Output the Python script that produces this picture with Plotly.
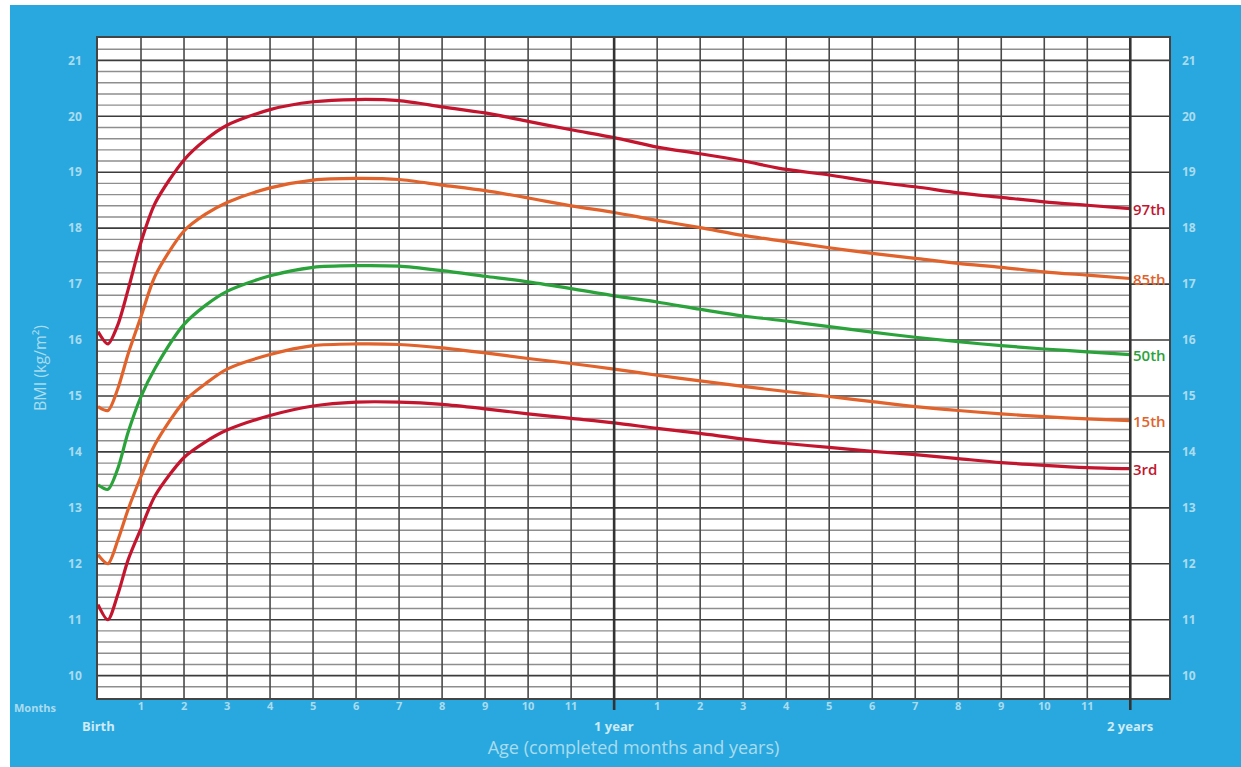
import plotly.graph_objects as go

# ---------------- data ----------------
months = [0, 0.23, 0.46, 0.7, 1, 1.33, 2, 2.5, 3, 4, 5,
          6, 7, 8, 9, 10, 11, 12, 13, 14, 15, 16, 17, 18, 19, 20, 21, 22, 23, 24]

p97 = [16.15, 15.93, 16.27, 16.90, 17.75, 18.45, 19.22, 19.58, 19.84, 20.12, 20.26,
       20.30, 20.28, 20.17, 20.06, 19.91, 19.76, 19.62, 19.45, 19.33, 19.20, 19.05,
       18.95, 18.83, 18.74, 18.63, 18.55, 18.47, 18.41, 18.35]
p85 = [14.81, 14.74, 15.13, 15.75, 16.42, 17.15, 17.95, 18.25, 18.46, 18.72, 18.86,
       18.89, 18.87, 18.77, 18.67, 18.54, 18.40, 18.28, 18.14, 18.01, 17.87, 17.76,
       17.65, 17.55, 17.46, 17.37, 17.30, 17.22, 17.16, 17.10]
p50 = [13.41, 13.33, 13.70, 14.35, 14.99, 15.50, 16.28, 16.62, 16.87, 17.15, 17.30,
       17.33, 17.32, 17.24, 17.14, 17.04, 16.92, 16.79, 16.68, 16.55, 16.43, 16.34,
       16.24, 16.14, 16.05, 15.97, 15.90, 15.84, 15.79, 15.74]
p15 = [12.16, 12.00, 12.42, 12.97, 13.56, 14.14, 14.90, 15.22, 15.48, 15.74, 15.90,
       15.93, 15.92, 15.86, 15.77, 15.67, 15.58, 15.48, 15.37, 15.27, 15.17, 15.08,
       14.99, 14.90, 14.81, 14.74, 14.68, 14.63, 14.59, 14.56]
p3 = [11.27, 11.00, 11.45, 12.07, 12.63, 13.22, 13.90, 14.18, 14.39, 14.65, 14.82,
      14.89, 14.89, 14.85, 14.77, 14.68, 14.60, 14.52, 14.42, 14.33, 14.23, 14.15,
      14.08, 14.01, 13.95, 13.88, 13.81, 13.76, 13.72, 13.70]

curve_names = ["97th", "85th", "50th", "15th", "3rd"]
curve_values = [p97, p85, p50, p15, p3]

month_ticks = [1, 2, 3, 4, 5, 6, 7, 8, 9, 10, 11, 13, 14, 15, 16, 17, 18, 19, 20, 21, 22, 23]
month_labels = ["1", "2", "3", "4", "5", "6", "7", "8", "9", "10", "11",
                "1", "2", "3", "4", "5", "6", "7", "8", "9", "10", "11"]
year_ticks = [0, 12, 24]
year_labels = ["Birth", "1 year", "2 years"]
bmi_ticks = [10, 11, 12, 13, 14, 15, 16, 17, 18, 19, 20, 21]

# ---------------- style ----------------
W, H = 1241, 767
ML, MR, MT, MB = 98, 72, 38, 69
PW, PH = W - ML - MR, H - MT - MB
X_RANGE = [0, 24.9]
Y_RANGE = [9.6, 21.4]

BLUE = "#29a8df"
TICKC = "#aadcee"
NAMEC = "#cdebf5"
RED = "#c4152f"
ORANGE = "#e1622b"
GREEN = "#2aa33b"
curve_colors = [RED, ORANGE, GREEN, ORANGE, RED]
FONT = "Open Sans"


def px_x(px):
    return (px - ML) / PW


def px_y(py):
    return (H - MB - py) / PH


fig = go.Figure()

for name, vals, color in zip(curve_names, curve_values, curve_colors):
    fig.add_trace(go.Scatter(
        x=months, y=vals, mode="lines", name=name,
        line=dict(color=color, width=3.2, shape="spline", smoothing=0.8),
        hoverinfo="skip", showlegend=False))
    fig.add_annotation(x=months[-1], y=vals[-1], text=name, showarrow=False,
                       xanchor="left", yanchor="middle", xshift=1,
                       font=dict(family=FONT, size=15, color=color, weight=600))

# empty trace to activate right-hand BMI axis
fig.add_trace(go.Scatter(x=[None], y=[None], yaxis="y2", showlegend=False,
                         hoverinfo="skip"))

shapes = []
# horizontal grid lines every 0.2 kg/m2
lo, hi = int(round(Y_RANGE[0] * 5)), int(round(Y_RANGE[1] * 5))
for k in range(lo + 1, hi):
    v = k / 5
    if k % 5 == 0:
        shapes.append(dict(type="line", xref="x", yref="y", x0=0, x1=X_RANGE[1],
                           y0=v, y1=v, layer="below",
                           line=dict(color="#3c3c3c", width=1.6)))
    else:
        shapes.append(dict(type="line", xref="x", yref="y", x0=0, x1=24,
                           y0=v, y1=v, layer="below",
                           line=dict(color="#8e8e8e", width=1.4)))
# vertical month lines
for m in range(1, 24):
    if m == 12:
        continue
    shapes.append(dict(type="line", xref="x", yref="y", x0=m, x1=m,
                       y0=Y_RANGE[0], y1=Y_RANGE[1], layer="below",
                       line=dict(color="#4a4a4a", width=1.6)))
# year lines (thicker, extend below plot)
for m in [12, 24]:
    shapes.append(dict(type="line", xref="x", yref="paper", x0=m, x1=m,
                       y0=px_y(710), y1=1, layer="above",
                       line=dict(color="#333333", width=2.6)))
# white strips at the very left / top of the page
shapes.append(dict(type="rect", xref="paper", yref="paper",
                   x0=px_x(-2), x1=px_x(10), y0=px_y(H + 2), y1=px_y(-2),
                   line=dict(width=0), fillcolor="white", layer="below"))
shapes.append(dict(type="rect", xref="paper", yref="paper",
                   x0=px_x(-2), x1=px_x(W + 2), y0=px_y(5), y1=px_y(-2),
                   line=dict(width=0), fillcolor="white", layer="below"))

annotations = list(fig.layout.annotations)
for xv, lab in zip(year_ticks, year_labels):
    annotations.append(dict(x=xv, y=px_y(726), xref="x", yref="paper", text=lab,
                            showarrow=False, xanchor="center", yanchor="middle",
                            font=dict(family=FONT, size=13, color=NAMEC, weight="bold")))
annotations.append(dict(x=px_x(35), y=px_y(707), xref="paper", yref="paper",
                        text="Months", showarrow=False, xanchor="center",
                        yanchor="middle",
                        font=dict(family=FONT, size=11, color=TICKC, weight="bold")))

fig.update_layout(
    width=W, height=H,
    margin=dict(l=ML, r=MR, t=MT, b=MB, autoexpand=False),
    paper_bgcolor=BLUE, plot_bgcolor="white",
    shapes=shapes, annotations=annotations,
    xaxis=dict(range=X_RANGE, tickvals=month_ticks, ticktext=month_labels,
               showgrid=False, zeroline=False, ticks="", ticklabelstandoff=-3,
               tickfont=dict(family=FONT, size=11, color=TICKC, weight="bold"),
               showline=True, linecolor="#444444", linewidth=1.5, mirror=True,
               title=dict(text="Age (completed months and years)", standoff=29,
                          font=dict(family=FONT, size=18, color=TICKC))),
    yaxis=dict(range=Y_RANGE, tickvals=bmi_ticks, showgrid=False, zeroline=False,
               ticks="", ticklabelstandoff=12,
               tickfont=dict(family=FONT, size=12, color=TICKC, weight="bold"),
               showline=True, linecolor="#444444", linewidth=1.5, mirror=True,
               title=dict(text="BMI (kg/m²)", standoff=18,
                          font=dict(family=FONT, size=16, color=TICKC))),
    yaxis2=dict(range=Y_RANGE, tickvals=bmi_ticks, overlaying="y", side="right",
                showgrid=False, zeroline=False, ticks="", ticklabelstandoff=12,
                tickfont=dict(family=FONT, size=12, color=TICKC, weight="bold"),
                showline=False),
)

fig.write_html("out.html",
               config={"displayModeBar": False},
               post_script="document.documentElement.style.background='" + BLUE + "';"
                           "document.body.style.background='" + BLUE + "';"
                           "document.body.style.margin='0';"
                           "document.body.style.padding='0';"
                           "document.body.style.overflow='hidden';")
